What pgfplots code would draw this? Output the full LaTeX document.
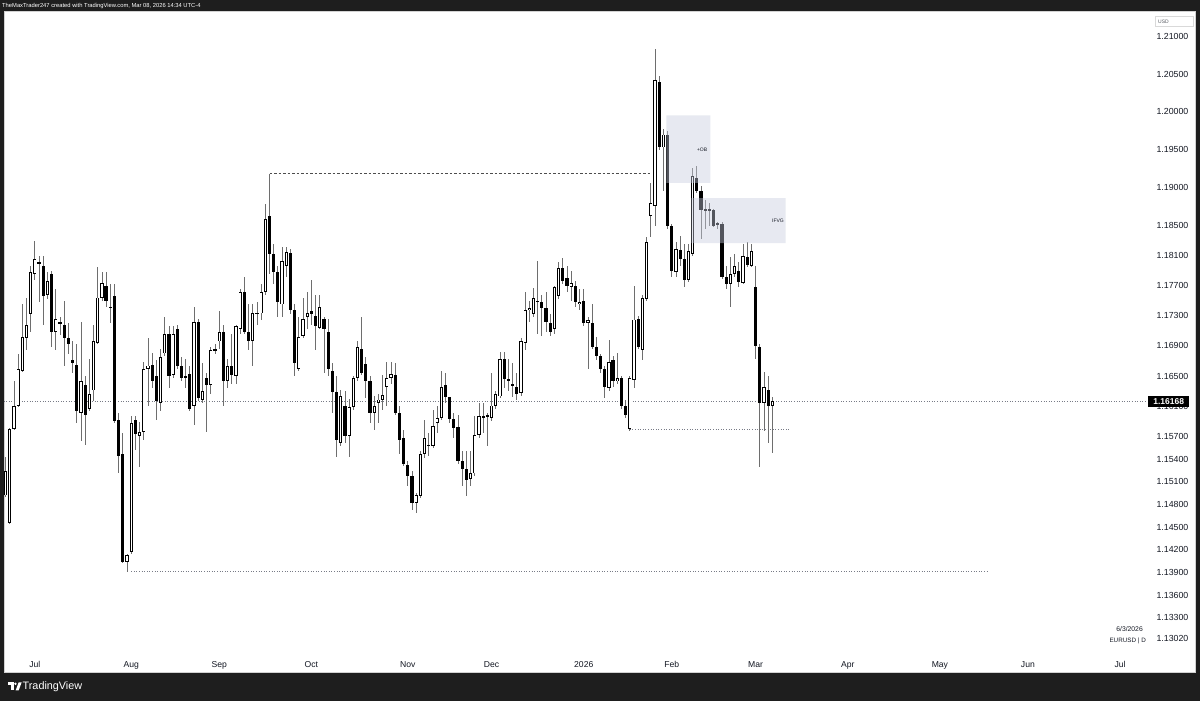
\documentclass[border=0pt]{standalone}
\usepackage{pgfplots}
\pgfplotsset{compat=1.18}
\usepackage{pgfplotstable}
\usepackage{fontspec}
\setmainfont{Liberation Sans}
\definecolor{frame}{RGB}{30,30,30}
\definecolor{tvtext}{RGB}{19,23,34}
\definecolor{wick}{RGB}{110,110,110}
\definecolor{boxc}{RGB}{200,204,222}
\definecolor{lvl}{RGB}{120,123,134}

\pgfplotstableread{
i o h l c
-7 1.1492 1.1543 1.1490 1.1524
-6 1.1456 1.1581 1.1454 1.1580
-5 1.1580 1.1643 1.1579 1.1610
-4 1.1611 1.1680 1.1609 1.1660
-3 1.1657 1.1745 1.1656 1.1702
-2 1.1700 1.1754 1.1684 1.1718
-1 1.1732 1.1796 1.1709 1.1788
0 1.1785 1.1829 1.1778 1.1805
1 1.1801 1.1809 1.1748 1.1798
2 1.1796 1.1809 1.1718 1.1756
3 1.1758 1.1788 1.1752 1.1776
4 1.1785 1.1789 1.1689 1.1708
5 1.1708 1.1765 1.1684 1.1725
6 1.1721 1.1728 1.1705 1.1720
7 1.1718 1.1749 1.1664 1.1701
8 1.1700 1.1721 1.1680 1.1692
9 1.1671 1.1697 1.1654 1.1667
10 1.1665 1.1693 1.1588 1.1604
11 1.1601 1.1721 1.1564 1.1643
12 1.1638 1.1650 1.1559 1.1598
13 1.1607 1.1673 1.1604 1.1626
14 1.1631 1.1718 1.1617 1.1697
15 1.1694 1.1794 1.1693 1.1754
16 1.1754 1.1788 1.1750 1.1773
17 1.1769 1.1788 1.1741 1.1749
18 1.1742 1.1772 1.1721 1.1740
19 1.1756 1.1772 1.1588 1.1590
20 1.1592 1.1601 1.1521 1.1544
21 1.1547 1.1575 1.1402 1.1404
22 1.1404 1.1415 1.1391 1.1413
23 1.1417 1.1597 1.1415 1.1588
24 1.1592 1.1597 1.1552 1.1573
25 1.1571 1.1589 1.1530 1.1576
26 1.1576 1.1669 1.1565 1.1660
27 1.1659 1.1700 1.1611 1.1664
28 1.1665 1.1680 1.1634 1.1643
29 1.1650 1.1671 1.1592 1.1617
30 1.1615 1.1686 1.1604 1.1675
31 1.1680 1.1729 1.1677 1.1706
32 1.1706 1.1716 1.1634 1.1650
33 1.1651 1.1716 1.1647 1.1706
34 1.1713 1.1718 1.1660 1.1663
35 1.1663 1.1676 1.1643 1.1647
36 1.1650 1.1673 1.1634 1.1648
37 1.1653 1.1663 1.1604 1.1607
38 1.1610 1.1742 1.1585 1.1721
39 1.1722 1.1725 1.1617 1.1621
40 1.1618 1.1667 1.1614 1.1630
41 1.1647 1.1654 1.1576 1.1638
42 1.1638 1.1689 1.1627 1.1684
43 1.1684 1.1693 1.1680 1.1686
44 1.1696 1.1736 1.1686 1.1709
45 1.1709 1.1718 1.1610 1.1643
46 1.1643 1.1673 1.1634 1.1663
47 1.1663 1.1706 1.1640 1.1651
48 1.1650 1.1718 1.1640 1.1716
49 1.1712 1.1765 1.1706 1.1762
50 1.1761 1.1781 1.1706 1.1709
51 1.1709 1.1745 1.1684 1.1696
52 1.1696 1.1745 1.1663 1.1734
53 1.1734 1.1748 1.1718 1.1732
54 1.1733 1.1772 1.1725 1.1761
55 1.1762 1.1878 1.1758 1.1858
56 1.1862 1.1918 1.1785 1.1812
57 1.1812 1.1825 1.1772 1.1788
58 1.1788 1.1796 1.1729 1.1748
59 1.1745 1.1821 1.1728 1.1802
60 1.1796 1.1821 1.1781 1.1814
61 1.1813 1.1818 1.1732 1.1738
62 1.1738 1.1745 1.1650 1.1667
63 1.1660 1.1728 1.1657 1.1702
64 1.1703 1.1754 1.1700 1.1726
65 1.1728 1.1761 1.1712 1.1733
66 1.1736 1.1778 1.1718 1.1732
67 1.1730 1.1758 1.1684 1.1716
68 1.1714 1.1758 1.1712 1.1742
69 1.1726 1.1729 1.1654 1.1712
70 1.1709 1.1725 1.1650 1.1659
71 1.1657 1.1667 1.1601 1.1629
72 1.1629 1.1650 1.1543 1.1565
73 1.1561 1.1631 1.1557 1.1623
74 1.1611 1.1631 1.1561 1.1571
75 1.1571 1.1619 1.1543 1.1609
76 1.1609 1.1650 1.1605 1.1648
77 1.1647 1.1696 1.1643 1.1689
78 1.1686 1.1729 1.1651 1.1654
79 1.1666 1.1676 1.1621 1.1643
80 1.1643 1.1650 1.1588 1.1601
81 1.1601 1.1623 1.1579 1.1610
82 1.1614 1.1627 1.1588 1.1619
83 1.1618 1.1651 1.1605 1.1625
84 1.1636 1.1669 1.1610 1.1647
85 1.1647 1.1669 1.1640 1.1653
86 1.1651 1.1667 1.1598 1.1601
87 1.1601 1.1610 1.1547 1.1565
88 1.1568 1.1579 1.1531 1.1534
89 1.1532 1.1538 1.1504 1.1518
90 1.1518 1.1524 1.1473 1.1482
91 1.1482 1.1495 1.1469 1.1492
92 1.1491 1.1551 1.1489 1.1547
93 1.1547 1.1592 1.1541 1.1568
94 1.1558 1.1575 1.1544 1.1559
95 1.1558 1.1605 1.1555 1.1584
96 1.1588 1.1610 1.1575 1.1594
97 1.1594 1.1657 1.1592 1.1636
98 1.1638 1.1654 1.1614 1.1623
99 1.1622 1.1623 1.1588 1.1593
100 1.1593 1.1601 1.1568 1.1581
101 1.1582 1.1598 1.1534 1.1538
102 1.1538 1.1551 1.1504 1.1527
103 1.1527 1.1551 1.1491 1.1512
104 1.1514 1.1551 1.1504 1.1522
105 1.1521 1.1597 1.1518 1.1572
106 1.1572 1.1614 1.1568 1.1597
107 1.1597 1.1614 1.1575 1.1596
108 1.1597 1.1601 1.1557 1.1598
109 1.1595 1.1654 1.1590 1.1611
110 1.1611 1.1630 1.1607 1.1626
111 1.1623 1.1682 1.1621 1.1672
112 1.1672 1.1682 1.1634 1.1646
113 1.1646 1.1673 1.1631 1.1644
114 1.1639 1.1667 1.1623 1.1638
115 1.1635 1.1654 1.1618 1.1627
116 1.1628 1.1700 1.1624 1.1697
117 1.1694 1.1762 1.1684 1.1738
118 1.1737 1.1749 1.1721 1.1740
119 1.1732 1.1767 1.1728 1.1754
120 1.1750 1.1802 1.1706 1.1748
121 1.1748 1.1758 1.1703 1.1740
122 1.1740 1.1761 1.1709 1.1722
123 1.1720 1.1732 1.1703 1.1709
124 1.1712 1.1769 1.1706 1.1768
125 1.1756 1.1801 1.1752 1.1793
126 1.1793 1.1807 1.1772 1.1776
127 1.1780 1.1796 1.1762 1.1770
128 1.1768 1.1789 1.1749 1.1773
129 1.1770 1.1776 1.1742 1.1748
130 1.1745 1.1765 1.1738 1.1748
131 1.1749 1.1765 1.1716 1.1720
132 1.1721 1.1728 1.1660 1.1724
133 1.1720 1.1745 1.1686 1.1689
134 1.1688 1.1702 1.1671 1.1676
135 1.1676 1.1680 1.1654 1.1659
136 1.1659 1.1664 1.1621 1.1636
137 1.1634 1.1698 1.1630 1.1668
138 1.1671 1.1677 1.1636 1.1643
139 1.1643 1.1680 1.1640 1.1647
140 1.1648 1.1650 1.1607 1.1610
141 1.1610 1.1618 1.1594 1.1598
142 1.1580 1.1650 1.1578 1.1647
143 1.1645 1.1769 1.1634 1.1725
144 1.1725 1.1729 1.1686 1.1689
145 1.1685 1.1758 1.1671 1.1754
146 1.1752 1.1834 1.1750 1.1828
147 1.1862 1.1906 1.1834 1.1879
148 1.1875 1.2083 1.1849 1.2042
149 1.2039 1.2047 1.1949 1.1953
150 1.1953 1.1977 1.1895 1.1970
151 1.1970 1.1974 1.1845 1.1849
152 1.1849 1.1852 1.1781 1.1789
153 1.1788 1.1828 1.1781 1.1818
154 1.1817 1.1836 1.1796 1.1805
155 1.1805 1.1825 1.1768 1.1778
156 1.1778 1.1825 1.1774 1.1816
157 1.1812 1.1926 1.1809 1.1915
158 1.1913 1.1929 1.1892 1.1895
159 1.1895 1.1902 1.1832 1.1870
160 1.1872 1.1883 1.1845 1.1869
161 1.1869 1.1879 1.1849 1.1871
162 1.1870 1.1871 1.1848 1.1849
163 1.1851 1.1854 1.1845 1.1853
164 1.1851 1.1854 1.1778 1.1782
165 1.1782 1.1796 1.1765 1.1772
166 1.1772 1.1808 1.1742 1.1785
167 1.1785 1.1812 1.1782 1.1796
168 1.1789 1.1801 1.1768 1.1774
169 1.1774 1.1825 1.1772 1.1809
170 1.1808 1.1828 1.1794 1.1797
171 1.1796 1.1825 1.1794 1.1816
172 1.1768 1.1796 1.1673 1.1690
173 1.1689 1.1693 1.1530 1.1614
174 1.1614 1.1656 1.1577 1.1636
175 1.1631 1.1650 1.1561 1.1610
176 1.1610 1.1623 1.1548 1.1617
}\candles

\begin{document}
\begin{tikzpicture}[x=1pt,y=1pt]
\useasboundingbox (0,0) rectangle (1200,701);
\fill[frame] (0,0) rectangle (1200,701);
\fill[white] (4,29) rectangle (1195,689.5);
\draw[gray!35, line width=0.6pt] (4,29) rectangle (1195,689.5);
\node[anchor=west, text=white, font=\fontsize{5.8}{6}\selectfont, inner sep=0pt] at (2,695.3) {TheMaxTrader247 created with TradingView.com, Mar 08, 2026 14:34 UTC-4};
% footer logo
\fill[white] (8,18.5) rectangle (13.6,15.8);
\fill[white] (10.9,15.8) rectangle (13.6,10.5);
\fill[white] (15.4,17.2) circle (1.35);
\fill[white] (15.6,10.5) -- (18.6,18.5) -- (21.6,18.5) -- (18.6,10.5) -- cycle;
\node[anchor=west, text=white, font=\fontsize{10.8}{12}\selectfont, inner sep=0pt] at (22.5,14.6) {TradingView};
% USD box
\draw[gray!30, line width=0.5pt] (1155,684.3) rectangle (1193,674.3);
\node[anchor=west, text=tvtext!70, font=\fontsize{5}{6}\selectfont, inner sep=0pt] at (1158,679.3) {USD};
\node[anchor=east, text=tvtext, font=\fontsize{6.8}{7}\selectfont, inner sep=0pt] at (1143,71.7) {6/3/2026};
\node[anchor=east, text=tvtext, font=\fontsize{6.3}{7}\selectfont, inner sep=0pt] at (1146,60) {EURUSD | D};

\begin{axis}[
  at={(8.5,68.5)}, anchor=south west,
  width=1146pt, height=636pt, scale only axis,
  xmin=-7.47, xmax=266.04,
  ymin=1.12881, ymax=1.21306,
  axis line style={draw=none},
  tick style={draw=none},
  clip=false,
  ytick={1.1302,1.133,1.136,1.139,1.142,1.145,1.148,1.151,1.154,1.157,1.161,1.165,1.169,1.173,1.177,1.181,1.185,1.19,1.195,1.2,1.205,1.21},
  yticklabels={1.13020,1.13300,1.13600,1.13900,1.14200,1.14500,1.14800,1.15100,1.15400,1.15700,1.16100,1.16500,1.16900,1.17300,1.17700,1.18100,1.18500,1.19000,1.19500,1.20000,1.20500,1.21000},
  yticklabel pos=right,
  yticklabel style={anchor=east, xshift=39pt, inner sep=0pt, text=tvtext, font=\fontsize{8.8}{10}\selectfont},
  xtick={0,23,44,66,89,109,131,152,172,194,216,237,259},
  xticklabels={Jul,Aug,Sep,Oct,Nov,Dec,2026,Feb,Mar,Apr,May,Jun,Jul},
  xticklabel style={anchor=base, yshift=-18pt, inner sep=0pt, text=tvtext, font=\fontsize{8.6}{10}\selectfont},
]
% level lines
\addplot[forget plot, lvl, line width=0.6pt, dash pattern=on 1pt off 1.6pt] coordinates {(-7.47,1.16168) (265,1.16168)};
\addplot[forget plot, black!70, line width=0.6pt, dash pattern=on 2.5pt off 2pt] coordinates {(56,1.1918) (147.2,1.1918)};
\addplot[forget plot, lvl, line width=0.6pt, dash pattern=on 1pt off 1.6pt] coordinates {(142,1.1579) (180.1,1.1579)};
\addplot[forget plot, lvl, line width=0.6pt, dash pattern=on 1pt off 1.6pt] coordinates {(23,1.1391) (227.4,1.1391)};
% wicks
\addplot[forget plot, draw=none, mark=none, error bars/.cd, y dir=both, y explicit, error mark=none,
  error bar style={draw=wick, line width=0.8pt}]
  table[x=i, y expr={(\thisrow{h}+\thisrow{l})/2}, y error expr={(\thisrow{h}-\thisrow{l})/2}] {\candles};
% bodies
\addplot[forget plot, draw=none, mark=none, error bars/.cd, y dir=both, y explicit, error mark=none,
  error bar style={draw=black, line width=3.2pt}]
  table[x=i, y expr={(\thisrow{o}+\thisrow{c})/2}, y error expr={max(abs(\thisrow{c}-\thisrow{o})/2,0.00007)}] {\candles};
\addplot[forget plot, draw=none, mark=none, error bars/.cd, y dir=both, y explicit, error mark=none,
  error bar style={draw=white, line width=1.4pt}]
  table[x=i, y expr={(\thisrow{o}+\thisrow{c})/2}, y error expr={max((\thisrow{c}-\thisrow{o})/2-0.00012,0)}] {\candles};
% zones
\addplot[forget plot, draw=none, fill=boxc, fill opacity=0.42] coordinates {(150.7,1.19061) (161.2,1.19061) (161.2,1.19955) (150.7,1.19955) (150.7,1.19061)};
\addplot[forget plot, draw=none, fill=boxc, fill opacity=0.42] coordinates {(156.7,1.18262) (179.2,1.18262) (179.2,1.18857) (156.7,1.18857) (156.7,1.18262)};
\node[anchor=east, text=tvtext, font=\fontsize{5}{6}\selectfont, inner sep=0pt] at (axis cs:160.5,1.1950) {+OB};
\node[anchor=east, text=tvtext, font=\fontsize{5}{6}\selectfont, inner sep=0pt] at (axis cs:178.8,1.1856) {IFVG};
% current price label
\node[anchor=west, fill=black, text=white, font=\bfseries\fontsize{8.5}{9}\selectfont, minimum width=41pt, minimum height=11pt, inner sep=0pt, xshift=2.7pt] at (axis cs:265,1.16168) {1.16168};
\end{axis}
\end{tikzpicture}
\end{document}
